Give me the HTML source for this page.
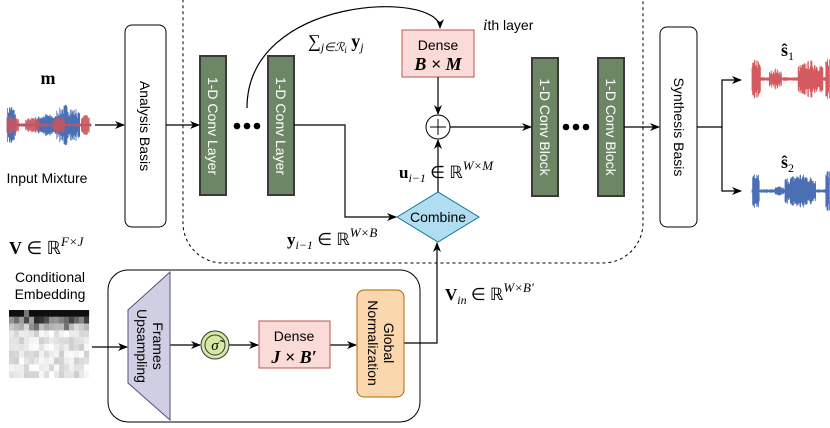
<!DOCTYPE html>
<html><head><meta charset="utf-8"><style>
body{margin:0;background:#fff;width:830px;height:423px;overflow:hidden}
svg text{font-family:"Liberation Sans",sans-serif}
.m{font-family:"Liberation Serif",serif}
</style></head><body>
<svg id="s" width="830" height="423" viewBox="0 0 830 423" xmlns="http://www.w3.org/2000/svg">
<defs>
<marker id="a" markerWidth="10" markerHeight="10" refX="9" refY="5" orient="auto" markerUnits="userSpaceOnUse"><path d="M0,1 L10,5 L0,9 L3,5 Z" fill="#000"/></marker>
</defs>
<g id="waves"></g>
<rect x="183" y="-40" width="460" height="303" rx="40" fill="none" stroke="#000" stroke-dasharray="3,3"/>
<rect x="125" y="25" width="41" height="202" rx="7" fill="#fff" stroke="#000"/>
<text transform="translate(140,126) rotate(90)" text-anchor="middle" font-size="14">Analysis Basis</text>
<g fill="#6d8764" stroke="#3a3a3a" stroke-width="2">
<rect x="200" y="56" width="26" height="139"/><rect x="268" y="56" width="26" height="139"/>
<rect x="532" y="58" width="26" height="138"/><rect x="598" y="58" width="26" height="138"/>
</g>
<g fill="#fff" font-size="14" text-anchor="middle">
<text transform="translate(208,126) rotate(90)">1-D Conv Layer</text>
<text transform="translate(276,126) rotate(90)">1-D Conv Layer</text>
<text transform="translate(540,127) rotate(90)">1-D Conv Block</text>
<text transform="translate(606,127) rotate(90)">1-D Conv Block</text>
</g>
<g fill="#000"><circle cx="237" cy="126" r="3.3"/><circle cx="247" cy="126" r="3.3"/><circle cx="257" cy="126" r="3.3"/>
<circle cx="566" cy="127" r="3.3"/><circle cx="576" cy="127" r="3.3"/><circle cx="586" cy="127" r="3.3"/></g>
<rect x="660" y="27" width="37" height="200" rx="7" fill="#fff" stroke="#000"/>
<text transform="translate(674,127) rotate(90)" text-anchor="middle" font-size="14">Synthesis Basis</text>
<rect x="402" y="30" width="72" height="47" fill="#fadbd8" stroke="#b85450"/>
<text x="438" y="50" text-anchor="middle" font-size="14">Dense</text>
<text x="438" y="70" text-anchor="middle" font-size="18" class="m" font-style="italic" font-weight="bold">B × M</text>
<circle cx="438" cy="127" r="12" fill="#fff" stroke="#000"/>
<path d="M430,127H446M438,119V135" stroke="#000"/>
<path d="M397,217 L438,192 L479,217 L438,242 Z" fill="#b1ddf0" stroke="#10739e"/>
<text x="438" y="222" text-anchor="middle" font-size="14">Combine</text>
<g stroke="#000" fill="none" stroke-width="1.2" marker-end="url(#a)">
<path d="M95,125H124"/>
<path d="M166,125H199"/>
<path d="M247,108 C247,-5 440,-10 440,28"/>
<path d="M294,125H345V217H396"/>
<path d="M438,77V114"/>
<path d="M438,192V140"/>
<path d="M450,127H531"/>
<path d="M624,127H659"/>
<path d="M697,127H722V80H741"/>
<path d="M722,127V191H741"/>
<path d="M92,347H127"/>
<path d="M170,345H200"/>
<path d="M229,345H258"/>
<path d="M330,345H356"/>
<path d="M404,343H437V243"/>
</g>
<rect x="108" y="270" width="312" height="152" rx="20" fill="none" stroke="#000"/>
<path d="M128,310 L170,272 L170,420 L128,383 Z" fill="#d0cee2" stroke="#56517e"/>
<text transform="translate(149,346) rotate(90)" text-anchor="middle" font-size="14"><tspan x="0" y="-4">Frames</tspan><tspan x="0" y="12">Upsampling</tspan></text>
<circle cx="215" cy="345" r="14" fill="#d5e8a4" stroke="#36393d"/>
<circle cx="215" cy="345" r="10" fill="none" stroke="#36393d"/>
<text x="215" y="350" text-anchor="middle" font-size="15" class="m" font-style="italic">σ̃</text>
<rect x="259" y="321" width="71" height="47" fill="#fadbd8" stroke="#b85450"/>
<text x="294" y="341" text-anchor="middle" font-size="14">Dense</text>
<text x="294" y="363" text-anchor="middle" font-size="18" class="m" font-style="italic" font-weight="bold">J × B′</text>
<rect x="357" y="290" width="47" height="107" rx="7" fill="#fad7ac" stroke="#b46504"/>
<text transform="translate(380,343) rotate(90)" text-anchor="middle" font-size="14"><tspan x="0" y="-4">Global</tspan><tspan x="0" y="12">Normalization</tspan></text>
<g id="emb"></g>
<text x="48" y="84" text-anchor="middle" font-size="18" class="m" font-weight="bold">m</text>
<text x="47" y="183" text-anchor="middle" font-size="14">Input Mixture</text>
<text x="9" y="254" font-size="18" class="m"><tspan font-weight="bold">V</tspan> ∈ ℝ<tspan font-size="13" dy="-8" font-style="italic">F×J</tspan></text>
<text x="50" y="282" text-anchor="middle" font-size="14">Conditional</text>
<text x="50" y="299" text-anchor="middle" font-size="14">Embedding</text>
<text x="308" y="47" font-size="18" class="m">∑<tspan font-size="12" dy="4" font-style="italic">j∈ℛ</tspan><tspan font-size="9" dy="2" font-style="italic">i</tspan><tspan font-weight="bold" dy="-6"> y</tspan><tspan font-size="12" dy="4" font-style="italic">j</tspan></text>
<text x="483" y="30" font-size="14"><tspan class="m" font-style="italic" font-size="16">i</tspan>th layer</text>
<text x="399" y="178" font-size="17" class="m"><tspan font-weight="bold">u</tspan><tspan font-size="12" dy="4" font-style="italic">i−1</tspan><tspan dy="-4"> ∈ ℝ</tspan><tspan font-size="13" dy="-8" font-style="italic">W×M</tspan></text>
<text x="287" y="245" font-size="17" class="m"><tspan font-weight="bold">y</tspan><tspan font-size="12" dy="4" font-style="italic">i−1</tspan><tspan dy="-4"> ∈ ℝ</tspan><tspan font-size="13" dy="-8" font-style="italic">W×B</tspan></text>
<text x="445" y="300" font-size="17" class="m"><tspan font-weight="bold">V</tspan><tspan font-size="12" dy="4" font-style="italic">in</tspan><tspan dy="-4"> ∈ ℝ</tspan><tspan font-size="13" dy="-8" font-style="italic">W×B′</tspan></text>
<text x="781" y="56" font-size="18" class="m" font-weight="bold">ŝ<tspan font-size="12" dy="4" font-weight="normal">1</tspan></text>
<text x="781" y="168" font-size="18" class="m" font-weight="bold">ŝ<tspan font-size="12" dy="4" font-weight="normal">2</tspan></text>
</svg>
<script>
var seed=7;function r(){seed=(seed*16807)%2147483647;return seed/2147483647;}
var NS="http://www.w3.org/2000/svg",W=document.getElementById("waves");
function env(x,ps){var e=0.08;ps.forEach(function(p){var d=Math.abs(x-p[0]);if(d<p[1])e=Math.max(e,p[2]*(1-d/p[1]*0.3));});return e;}
function wave(x0,x1,cy,h,col,ps,op){var d="";for(var x=x0;x<=x1;x+=0.6){var a=env((x-x0)/(x1-x0),ps)*h*(0.45+0.55*Math.pow(r(),0.7));d+="M"+x.toFixed(1)+","+(cy-a).toFixed(1)+"V"+(cy+a).toFixed(1);}
var p=document.createElementNS(NS,"path");p.setAttribute("d",d);p.setAttribute("stroke",col);p.setAttribute("stroke-width","0.8");p.setAttribute("opacity",op);W.appendChild(p);}
var blue=[[0.04,0.06,1],[0.48,0.14,0.55],[0.7,0.12,1],[0.82,0.05,0.8]];
var red=[[0.06,0.08,0.5],[0.3,0.08,0.45],[0.62,0.07,0.5],[0.93,0.05,0.6]];
wave(7,91,125,21,"#4a6fb5",blue,1);wave(7,91,125,19,"#c9555b",red,0.9);
wave(752,830,79,24,"#d45a60",[[0.05,0.06,0.9],[0.3,0.08,0.45],[0.75,0.16,0.8],[0.98,0.04,1]],1);
wave(752,830,191,24,"#4a6fb5",[[0.05,0.05,1],[0.35,0.06,0.2],[0.62,0.2,0.75],[0.98,0.04,1]],1);
var E=document.getElementById("emb");
for(var i=0;i<10;i++)for(var j=0;j<16;j++){var v=i==0?(j==3?120:15):i==1?40+r()*120:i==2?110+r()*110:205+r()*50;
var q=document.createElementNS(NS,"rect");q.setAttribute("x",9+j*5);q.setAttribute("y",310+i*6.8);q.setAttribute("width",5.1);q.setAttribute("height",6.9);var c=Math.round(v);q.setAttribute("fill","rgb("+c+","+c+","+c+")");E.appendChild(q);}
</script>
</body></html>
